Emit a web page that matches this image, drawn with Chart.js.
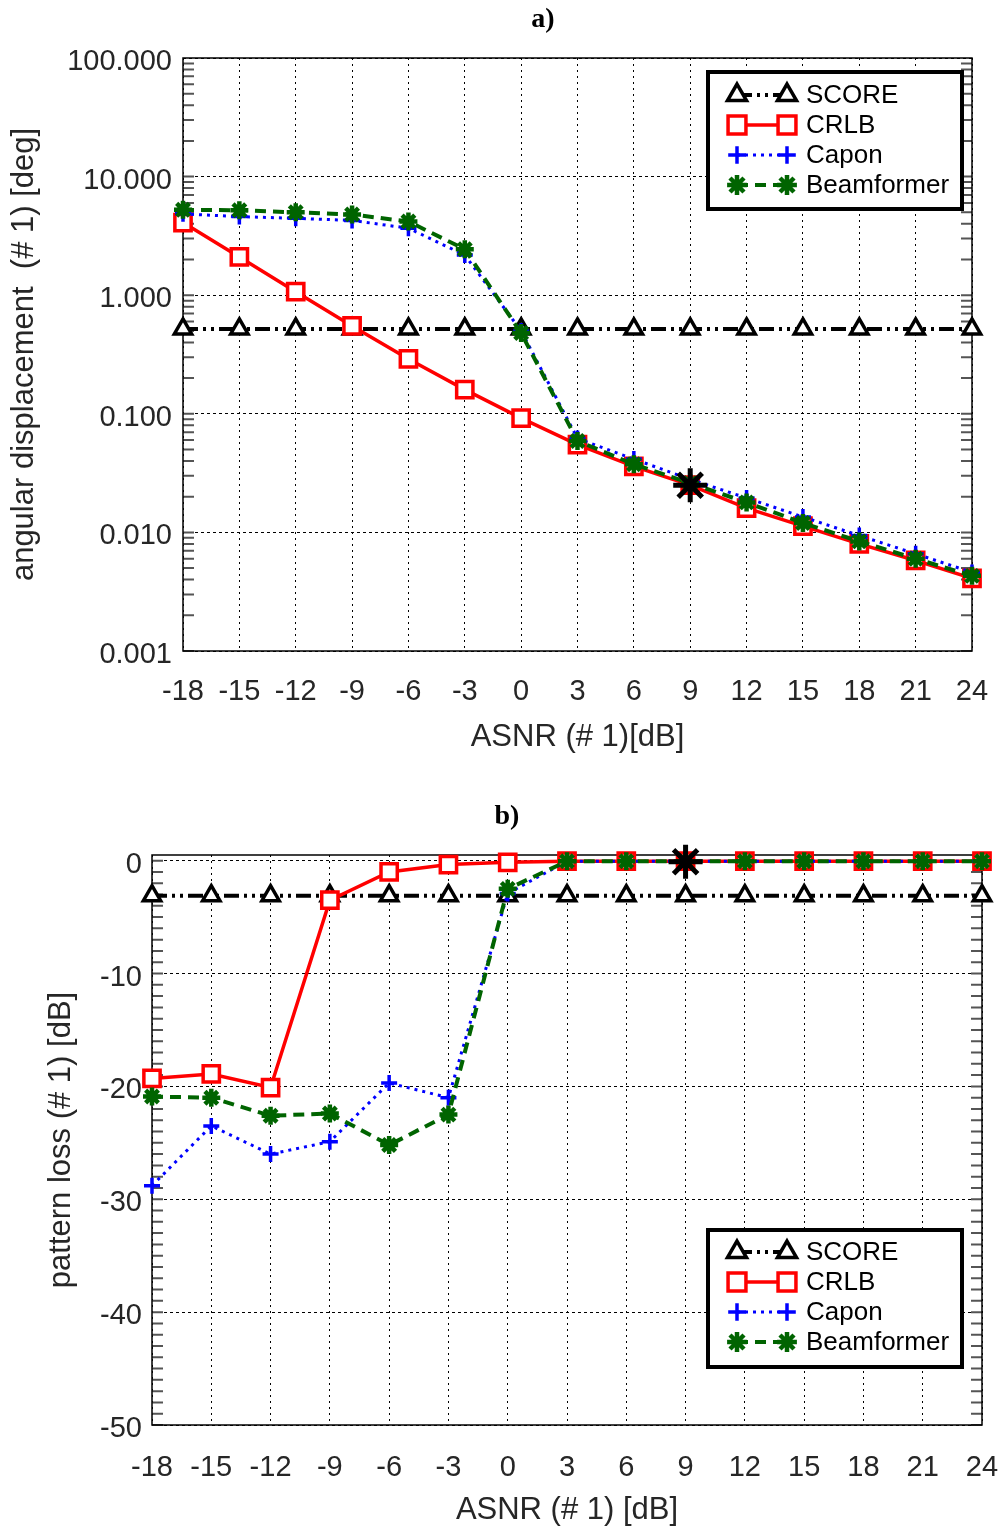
<!DOCTYPE html>
<html>
<head>
<meta charset="utf-8">
<script src="https://cdn.jsdelivr.net/npm/chart.js@4/dist/chart.umd.min.js"></script>
<style>
  body { margin: 0; background: #fff; }
  canvas { position: absolute; left: 0; }
</style>
</head>
<body>
<canvas id="chartA" width="1004" height="770" style="top:0"></canvas>
<canvas id="chartB" width="1004" height="759" style="top:770px"></canvas>
<script>
// x values shared by both panels
var asnr = [-18, -15, -12, -9, -6, -3, 0, 3, 6, 9, 12, 15, 18, 21, 24];
var xTicks = [-18, -15, -12, -9, -6, -3, 0, 3, 6, 9, 12, 15, 18, 21, 24];

// a) angular displacement [deg]
var scoreA = [0.52, 0.52, 0.52, 0.52, 0.52, 0.52, 0.52, 0.52, 0.52, 0.52, 0.52, 0.52, 0.52, 0.52, 0.52];
var crlbA  = [4.1, 2.1, 1.07, 0.55, 0.29, 0.16, 0.092, 0.055, 0.036, 0.025, 0.016, 0.0113, 0.008, 0.0058, 0.0041];
var caponA = [4.85, 4.6, 4.45, 4.27, 3.67, 2.18, 0.5, 0.062, 0.0415, 0.028, 0.0195, 0.0135, 0.0094, 0.0066, 0.0046];
var beamA  = [5.25, 5.2, 5.0, 4.8, 4.18, 2.44, 0.48, 0.059, 0.0375, 0.026, 0.0179, 0.012, 0.0084, 0.006, 0.0043];
var markA  = [9, 0.025];
var yTicksA = [0.001, 0.01, 0.1, 1, 10, 100];

// b) pattern loss [dB]
var scoreB = [-3.1, -3.1, -3.1, -3.1, -3.1, -3.1, -3.1, -3.1, -3.1, -3.1, -3.1, -3.1, -3.1, -3.1, -3.1];
var crlbB  = [-19.3, -18.9, -20.1, -3.5, -1.0, -0.35, -0.15, -0.05, -0.05, -0.05, -0.05, -0.05, -0.05, -0.05, -0.05];
var caponB = [-28.8, -23.5, -26.0, -24.9, -19.7, -21.0, -2.9, -0.05, -0.05, -0.05, -0.05, -0.05, -0.05, -0.05, -0.05];
var beamB  = [-20.9, -21.0, -22.6, -22.4, -25.2, -22.5, -2.5, -0.05, -0.05, -0.05, -0.05, -0.05, -0.05, -0.05, -0.05];
var markB  = [9, -0.1];
var yTicksB = [-50, -40, -30, -20, -10, 0];

var txt = '#262626';

function pts(ys) {
  return asnr.map(function (x, i) { return { x: x, y: ys[i] }; });
}

function makeSets(score, crlb, capon, beam, mark) {
  return [
    { label: 'SCORE', data: pts(score), borderColor: '#000', borderWidth: 4, borderDash: [15, 5, 3, 5, 3, 5],
      pointStyle: 'triangle', pointRadius: 10, pointBorderWidth: 3.5, pointBackgroundColor: '#fff', pointBorderColor: '#000', order: 3 },
    { label: 'CRLB', data: pts(crlb), borderColor: '#ff0000', borderWidth: 3.5, borderDash: [],
      pointStyle: 'rect', pointRadius: 11.5, pointBorderWidth: 3.5, pointBackgroundColor: '#fff', pointBorderColor: '#ff0000', order: 2 },
    { label: 'Capon', data: pts(capon), borderColor: '#0000ff', borderWidth: 3, borderDash: [3, 5],
      pointStyle: 'cross', pointRadius: 8, pointBorderWidth: 3.5, pointBackgroundColor: '#0000ff', pointBorderColor: '#0000ff', order: 1 },
    { label: 'Beamformer', data: pts(beam), borderColor: '#006400', borderWidth: 4, borderDash: [11, 7],
      pointStyle: 'star', pointRadius: 9, pointBorderWidth: 4.5, pointBackgroundColor: '#006400', pointBorderColor: '#006400', order: 0 },
    { label: '', data: [{ x: mark[0], y: mark[1] }], showLine: false, borderColor: '#000',
      pointStyle: 'star', pointRadius: 17, pointBorderWidth: 5, pointBorderColor: '#000', order: -1 }
  ];
}

// frame, inner minor ticks, caption and MATLAB-like legend
var decor = {
  id: 'decor',
  beforeDatasetsDraw: function (chart, args, o) {
    var ctx = chart.ctx, a = chart.chartArea, ys = chart.scales.y;
    ctx.save();
    ctx.strokeStyle = '#555';
    ctx.lineWidth = 2;
    o.minor.forEach(function (v) {
      var py = ys.getPixelForValue(v);
      ctx.beginPath();
      ctx.moveTo(a.left, py); ctx.lineTo(a.left + 11, py);
      ctx.moveTo(a.right, py); ctx.lineTo(a.right - 11, py);
      ctx.stroke();
    });
    ctx.strokeStyle = '#000';
    ctx.lineWidth = 1.5;
    ctx.strokeRect(a.left, a.top, a.right - a.left, a.bottom - a.top);
    ctx.restore();
  },
  afterDatasetsDraw: function (chart, args, o) {
    var ctx = chart.ctx, a = chart.chartArea;
    ctx.save();
    ctx.fillStyle = '#000';
    ctx.font = 'bold 28px "Liberation Serif"';
    ctx.textAlign = 'center';
    ctx.textBaseline = 'middle';
    ctx.fillText(o.caption, o.capX, o.capY);

    var w = 254, h = 137;
    var x0 = a.right - o.boxRight - w;
    var y0 = o.boxTop != null ? a.top + o.boxTop : a.bottom - o.boxBottom - h;
    ctx.fillStyle = '#fff';
    ctx.fillRect(x0, y0, w, h);
    ctx.lineWidth = 4;
    ctx.strokeStyle = '#000';
    ctx.strokeRect(x0, y0, w, h);
    chart.data.datasets.slice(0, 4).forEach(function (ds, i) {
      var y = y0 + o.rowTop + i * 30, xa = x0 + 29, xb = x0 + 79;
      ctx.setLineDash(ds.borderDash);
      ctx.lineWidth = ds.borderWidth;
      ctx.strokeStyle = ds.borderColor;
      ctx.beginPath(); ctx.moveTo(xa, y); ctx.lineTo(xb, y); ctx.stroke();
      ctx.setLineDash([]);
      ctx.fillStyle = ds.pointBackgroundColor;
      ctx.strokeStyle = ds.pointBorderColor;
      ctx.lineWidth = ds.pointBorderWidth;
      [xa, xb].forEach(function (px) {
        Chart.helpers.drawPoint(ctx, { pointStyle: ds.pointStyle, radius: ds.pointRadius * 1.1,
          borderWidth: ds.pointBorderWidth, rotation: 0 }, px, y);
      });
      ctx.fillStyle = '#000';
      ctx.font = '26px "Liberation Sans"';
      ctx.textAlign = 'left';
      ctx.fillText(ds.label, x0 + 98, y + 1);
    });
    ctx.restore();
  }
};

function xScale(h, tickPad, titleText, titleBottom) {
  return {
    type: 'linear', min: -18, max: 24,
    afterBuildTicks: function (s) { s.ticks = xTicks.map(function (v) { return { value: v }; }); },
    afterFit: function (s) { s.height = h; s.paddingLeft = 0; s.paddingRight = 0; },
    grid: { color: '#000', lineWidth: 1, drawTicks: false },
    border: { display: false, dash: [2, 4] },
    ticks: { color: txt, font: { family: 'Liberation Sans', size: 29 }, padding: tickPad, maxRotation: 0 },
    title: { display: true, text: titleText, color: txt, font: { family: 'Liberation Sans', size: 31 }, padding: { top: 0, bottom: titleBottom } }
  };
}

var minorA = [];
[0.001, 0.01, 0.1, 1, 10].forEach(function (d) {
  for (var k = 1; k < 10; k++) minorA.push(d * k);
});
var minorB = [];
for (var v = -50; v <= 0; v++) minorB.push(v);

new Chart(document.getElementById('chartA'), {
  type: 'line',
  data: { datasets: makeSets(scoreA, crlbA, caponA, beamA, markA) },
  options: {
    responsive: false, animation: false,
    layout: { padding: { top: 58, right: 32, left: 0, bottom: 0 } },
    elements: { line: { tension: 0 }, point: { hoverRadius: 0 } },
    datasets: { line: { clip: false } },
    plugins: {
      legend: { display: false }, tooltip: { enabled: false },
      decor: { caption: 'a)', capX: 543, capY: 20, minor: minorA, boxRight: 10, boxTop: 14, rowTop: 23 }
    },
    scales: {
      x: xScale(119, 23.6, 'ASNR (# 1)[dB]', 14),
      y: {
        type: 'logarithmic', min: 0.001, max: 100,
        afterBuildTicks: function (s) { s.ticks = yTicksA.map(function (v) { return { value: v }; }); },
        afterFit: function (s) { s.width = 183; },
        grid: { color: '#000', lineWidth: 1, drawTicks: false },
        border: { display: false, dash: [3, 3] },
        ticks: { color: txt, font: { family: 'Liberation Sans', size: 29 }, padding: 11, labelOffset: 4,
          callback: function (v) { return Number(v).toFixed(3); } },
        title: { display: true, text: 'angular displacement  (# 1) [deg]', color: txt,
          font: { family: 'Liberation Sans', size: 31 }, padding: { top: 6, bottom: 0 } }
      }
    }
  },
  plugins: [decor]
});

new Chart(document.getElementById('chartB'), {
  type: 'line',
  data: { datasets: makeSets(scoreB, crlbB, caponB, beamB, markB) },
  options: {
    responsive: false, animation: false,
    layout: { padding: { top: 85, right: 22, left: 0, bottom: 0 } },
    elements: { line: { tension: 0 }, point: { hoverRadius: 0 } },
    datasets: { line: { clip: false } },
    plugins: {
      legend: { display: false }, tooltip: { enabled: false },
      decor: { caption: 'b)', capX: 507, capY: 47, minor: minorB, boxRight: 20, boxBottom: 58, rowTop: 22 }
    },
    scales: {
      x: xScale(104, 25.6, 'ASNR (# 1) [dB]', 0),
      y: {
        type: 'linear', min: -50, max: 0.5,
        afterBuildTicks: function (s) { s.ticks = yTicksB.map(function (v) { return { value: v }; }); },
        afterFit: function (s) { s.width = 152; },
        grid: { color: '#000', lineWidth: 1, drawTicks: false },
        border: { display: false, dash: [3, 3] },
        ticks: { color: txt, font: { family: 'Liberation Sans', size: 29 }, padding: 10, labelOffset: 4 },
        title: { display: true, text: 'pattern loss (# 1) [dB]', color: txt,
          font: { family: 'Liberation Sans', size: 31 }, padding: { top: 43, bottom: 0 } }
      }
    }
  },
  plugins: [decor]
});
</script>
</body>
</html>
